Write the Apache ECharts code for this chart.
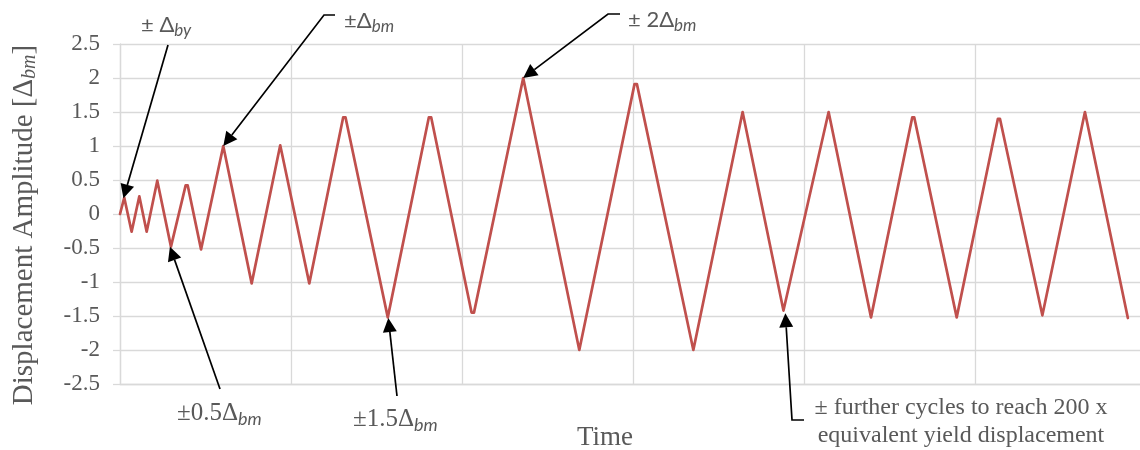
<!DOCTYPE html>
<html>
<head>
<meta charset="utf-8">
<script src="https://cdn.jsdelivr.net/npm/echarts@6/dist/echarts.min.js"></script>
<style>
html, body { margin: 0; padding: 0; background: #fff; }
#main { width: 1140px; height: 450px; }
</style>
</head>
<body>
<div id="main"></div>
<script>
// loading protocol: time (in grid units) and displacement amplitude
var timeVals = [0, 0.025, 0.068, 0.113, 0.156, 0.218, 0.298, 0.384, 0.396, 0.474,
    0.604, 0.770, 0.937, 1.107, 1.305, 1.319, 1.566, 1.806, 1.820, 2.056,
    2.070, 2.358, 2.686, 3.009, 3.023, 3.353, 3.641, 3.880, 3.890, 4.144,
    4.392, 4.633, 4.645, 4.893, 5.134, 5.146, 5.394, 5.643, 5.894];
var ampVals = [0, 0.24, -0.26, 0.26, -0.26, 0.49, -0.48, 0.42, 0.42, -0.52,
    1.0, -1.02, 1.01, -1.02, 1.42, 1.42, -1.52, 1.42, 1.42, -1.45,
    -1.45, 2.0, -2.0, 1.91, 1.91, -2.0, 1.5, -1.42, -1.42, 1.5,
    -1.52, 1.42, 1.42, -1.52, 1.4, 1.4, -1.49, 1.5, -1.53];

var yMin = -2.5, yMax = 2.5, yStep = 0.5;
var xMin = 0, xMax = 5.965, xStep = 1;

var serif = 'Liberation Serif';
var sans = 'Lato';
var grey = '#595959';
var gridGrey = '#d9d9d9';

// annotations: text, where the arrow starts (pixels), what it points at (data)
var annotations = [
    {text: '{a|± Δ}{s|by}', kind: 'sans', x: 141, y: 25, path: [[168, 45]], at: [0.02, 0.23]},
    {text: '{a|±Δ}{s|bm}', kind: 'sans', x: 344, y: 21, path: [[335, 15], [324, 15]], at: [0.604, 1.0]},
    {text: '{a|± 2Δ}{s|bm}', kind: 'sans', x: 628, y: 20, path: [[620, 14], [608, 14]], at: [2.358, 2.0]},
    {text: '{a|±0.5Δ}{s|bm}', kind: 'serif', x: 177, y: 413, path: [[220, 389]], at: [0.292, -0.48]},
    {text: '{a|±1.5Δ}{s|bm}', kind: 'serif', x: 353, y: 419, path: [[397, 396]], at: [1.569, -1.53]},
    {text: '{a|± further cycles to reach 200 x}\n{a|equivalent yield displacement}', kind: 'plain', x: 961, y: 422,
        path: [[804, 420], [792, 420]], at: [3.891, -1.46]}
];

var seriesData = timeVals.map(function (t, i) { return [t, ampVals[i]]; });

var chart = echarts.init(document.getElementById('main'), null, {renderer: 'canvas'});

var option = {
    animation: false,
    backgroundColor: '#fff',
    grid: {left: 120, right: 0, top: 44, bottom: 66, containLabel: false, outerBoundsMode: 'none'},
    xAxis: {
        type: 'value',
        min: xMin,
        max: xMax,
        interval: xStep,
        name: 'Time',
        nameLocation: 'middle',
        nameGap: 40,
        nameTextStyle: {fontFamily: serif, fontSize: 27, color: grey, padding: [0, 50, 0, 0]},
        axisLine: {show: true, onZero: false, lineStyle: {color: gridGrey, width: 1.3}},
        axisTick: {show: false},
        axisLabel: {show: false},
        splitLine: {show: true, showMaxLine: false, lineStyle: {color: gridGrey, width: 1.3}}
    },
    yAxis: {
        type: 'value',
        min: yMin,
        max: yMax,
        interval: yStep,
        name: '{a|Displacement Amplitude [Δ}{s|bm}{a|]}',
        nameLocation: 'middle',
        nameRotate: 90,
        nameGap: 80,
        nameTextStyle: {
            padding: [0, 22, 0, 0],
            rich: {
                a: {fontFamily: serif, fontSize: 29, color: grey, lineHeight: 32},
                s: {fontFamily: serif, fontStyle: 'italic', fontSize: 20, color: grey, lineHeight: 12, verticalAlign: 'bottom'}
            }
        },
        axisLine: {show: true, lineStyle: {color: gridGrey, width: 1.3}},
        axisTick: {show: true, inside: false, length: 7, lineStyle: {color: gridGrey, width: 1.3}},
        axisLabel: {fontFamily: serif, fontSize: 23, color: grey, margin: 20},
        splitLine: {show: true, lineStyle: {color: gridGrey, width: 1.3}}
    },
    series: [{
        type: 'line',
        data: seriesData,
        showSymbol: false,
        symbol: 'none',
        lineStyle: {color: '#c0504d', width: 2.7, join: 'round', cap: 'round'}
    }]
};
chart.setOption(option);

function richFor(kind) {
    if (kind === 'sans') {
        return {
            a: {fontFamily: sans, fontSize: 22, fill: grey, lineHeight: 28},
            s: {fontFamily: sans, fontStyle: 'italic', fontSize: 17, fill: grey, lineHeight: 12, verticalAlign: 'bottom'}
        };
    }
    if (kind === 'serif') {
        return {
            a: {fontFamily: serif, fontSize: 25, fill: grey, lineHeight: 30},
            s: {fontFamily: sans, fontStyle: 'italic', fontSize: 18, fill: grey, lineHeight: 14, verticalAlign: 'bottom'}
        };
    }
    return {a: {fontFamily: serif, fontSize: 24, fill: grey, lineHeight: 28}};
}

// draw annotation arrows and texts
var graphics = [];
annotations.forEach(function (an) {
    var tip = chart.convertToPixel({gridIndex: 0}, an.at);
    var prev = an.path[an.path.length - 1];
    var dx = tip[0] - prev[0], dy = tip[1] - prev[1];
    var len = Math.sqrt(dx * dx + dy * dy);
    var ux = dx / len, uy = dy / len;
    var headLen = 14, headHalf = 7;
    var base = [tip[0] - ux * headLen, tip[1] - uy * headLen];
    var pts = an.path.concat([base]);
    graphics.push({
        type: 'polyline',
        shape: {points: pts},
        style: {stroke: '#000', lineWidth: 1.7, fill: null},
        z: 100
    });
    graphics.push({
        type: 'polygon',
        shape: {points: [tip, [base[0] - uy * headHalf, base[1] + ux * headHalf], [base[0] + uy * headHalf, base[1] - ux * headHalf]]},
        style: {fill: '#000'},
        z: 100
    });
    graphics.push({
        type: 'text',
        x: an.x,
        y: an.y,
        style: {
            text: an.text,
            rich: richFor(an.kind),
            align: an.kind === 'plain' ? 'center' : 'left',
            verticalAlign: 'middle'
        },
        z: 100
    });
});
chart.setOption({graphic: graphics});
</script>
</body>
</html>
